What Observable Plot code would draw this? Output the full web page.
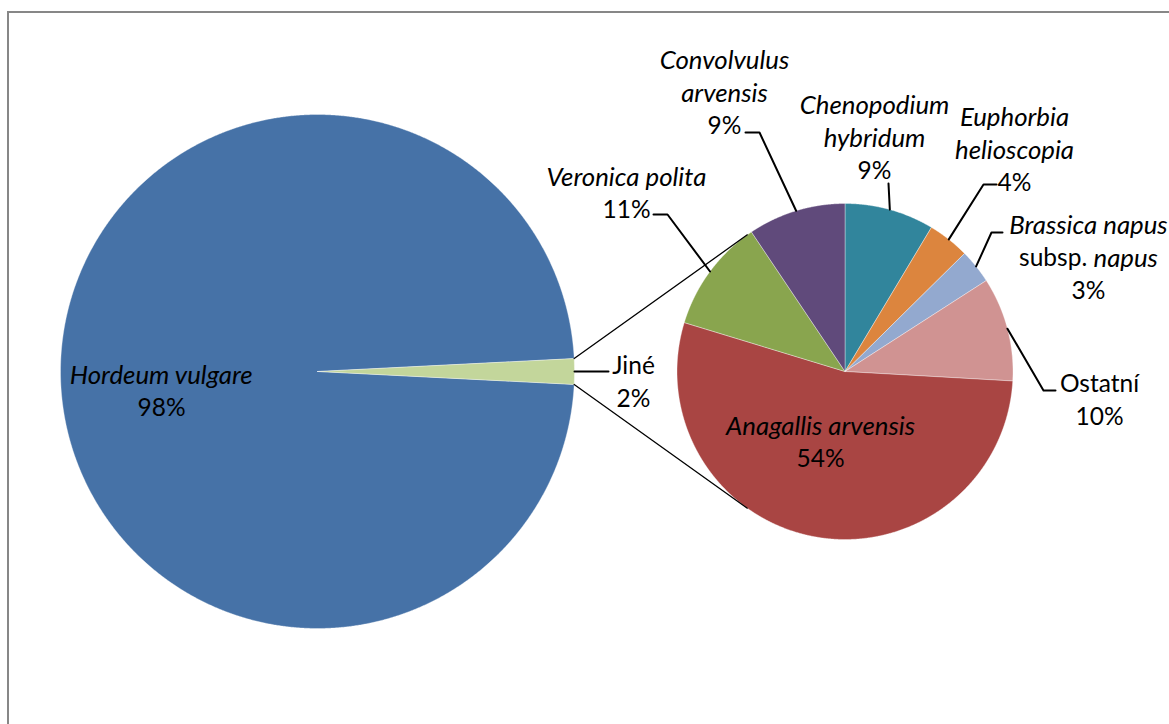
<!DOCTYPE html>
<html><head><meta charset="utf-8">
<script src="https://cdn.jsdelivr.net/npm/d3@7"></script>
<script src="https://cdn.jsdelivr.net/npm/@observablehq/plot@0.6"></script>
<style>
html,body{margin:0;padding:0;background:#fff;overflow:hidden}
#wrap{position:relative;width:1169px;height:724px;overflow:hidden}
#frame{position:absolute;left:7px;top:11px;width:1400px;height:1000px;border:2px solid #878787;box-sizing:border-box}
#chart{position:absolute;left:0;top:0}
</style></head><body>
<div id="wrap"><div id="frame"></div><div id="chart"></div></div>
<script>
// ---- data ----
const mainNames = ["Hordeum vulgare", "Jiné"];
const mainValues = [98.4, 1.6];
const mainColors = ["#4672A7", "#C3D69B"];
const mainLabels = ["*Hordeum vulgare*", "Jiné"];

const subNames = ["Chenopodium hybridum", "Euphorbia helioscopia", "Brassica napus subsp. napus", "Ostatní", "Anagallis arvensis", "Veronica polita", "Convolvulus arvensis"];
const subValues = [8.6, 4.0, 3.3, 10.0, 53.8, 10.9, 9.4];
const subColors = ["#31859C", "#DC853E", "#93A9CF", "#D09392", "#A94543", "#89A54E", "#604A7B"];
const subLabels = ["*Chenopodium*\n*hybridum*", "*Euphorbia*\n*helioscopia*", "*Brassica napus*\nsubsp. *napus*", "Ostatní", "*Anagallis arvensis*", "*Veronica polita*", "*Convolvulus*\n*arvensis*"];

// ---- layout ----
const W = 1169, H = 724;
const mainPie = {cx: 317, cy: 371, r: 257};
const subPie = {cx: 844.5, cy: 371, r: 168};
const FONT = "Lato", FS_N = 24.5, FS_I = 25.8, LH = 33;
// label block centre x, first-line centre y, leader start (and elbow)
const labelPos = {
  "Hordeum vulgare": {x: 161, y: 375},
  "Jiné": {x: 633, y: 366, leader: [[608, 371]]},
  "Chenopodium hybridum": {x: 874, y: 105, leader: [[888, 183]]},
  "Euphorbia helioscopia": {x: 1014, y: 117, leader: [[996, 184], [983, 184]]},
  "Brassica napus subsp. napus": {x: 1088, y: 225, leader: [[1002, 232], [991, 232]]},
  "Ostatní": {x: 1099, y: 384, leader: [[1055, 390], [1043, 390]]},
  "Anagallis arvensis": {x: 820, y: 426},
  "Veronica polita": {x: 626, y: 177, leader: [[653, 214], [667, 214]]},
  "Convolvulus arvensis": {x: 724, y: 60, leader: [[745, 132], [759, 132]]}
};

// ---- geometry ----
const TAU = 2 * Math.PI;
const mainTotal = d3.sum(mainValues);
const jIdx = 1;
const before = d3.sum(mainValues.slice(0, jIdx));
const mainStart = Math.PI / 2 - TAU * (before + mainValues[jIdx] / 2) / mainTotal;
const mainArcs = d3.pie().sort(null).startAngle(mainStart).endAngle(mainStart + TAU)(mainValues);
const subArcs = d3.pie().sort(null).startAngle(0).endAngle(TAU)(subValues);

const pt = (p, a, r = p.r) => ({x: p.cx + r * Math.sin(a), y: p.cy - r * Math.cos(a)});

function wedge(name, p, a0, a1) {
  const pts = [{name, x: p.cx, y: p.cy}];
  const n = Math.max(4, Math.ceil((a1 - a0) / (Math.PI / 720)));
  for (let i = 0; i <= n; i++) {
    const q = pt(p, a0 + (a1 - a0) * i / n);
    pts.push({name, ...q});
  }
  pts.push({name, x: p.cx, y: p.cy});
  return pts;
}

const wedges = [];
mainArcs.forEach((a, i) => wedges.push(...wedge(mainNames[i], mainPie, a.startAngle, a.endAngle)));
subArcs.forEach((a, i) => wedges.push(...wedge(subNames[i], subPie, a.startAngle, a.endAngle)));

// connector tangent lines from the "Jiné" slice edges to the secondary pie
function tangent(P, C, r, upper) {
  const dx = P.x - C.cx, dy = P.y - C.cy;
  const d = Math.hypot(dx, dy);
  const base = Math.atan2(dy, dx);
  const off = Math.acos(r / d);
  const ang = upper ? base + off : base - off;
  return {x: C.cx + r * Math.cos(ang), y: C.cy + r * Math.sin(ang)};
}
const jArc = mainArcs[jIdx];
const pTop = pt(mainPie, jArc.startAngle), pBot = pt(mainPie, jArc.endAngle);
const connectors = [
  {id: "t", ...pTop}, {id: "t", ...tangent(pTop, subPie, subPie.r, true)},
  {id: "b", ...pBot}, {id: "b", ...tangent(pBot, subPie, subPie.r, false)}
];

// leaders
const leaders = [];
function addLeader(name, p, arc) {
  const lp = labelPos[name];
  if (!lp.leader) return;
  const mid = (arc.startAngle + arc.endAngle) / 2;
  lp.leader.forEach(([x, y]) => leaders.push({id: name, x, y}));
  leaders.push({id: name, ...pt(p, mid)});
}
mainArcs.forEach((a, i) => addLeader(mainNames[i], mainPie, a));
subArcs.forEach((a, i) => addLeader(subNames[i], subPie, a));

// text rows
const ctx = document.createElement("canvas").getContext("2d");
function measure(t, it) { ctx.font = `${it ? "italic " : ""}${it ? FS_I : FS_N}px ${FONT}`; return ctx.measureText(t).width; }
const textRows = [];
function addLabel(name, label, value, total) {
  const lp = labelPos[name];
  const lines = label.split("\n").concat([Math.round(value / total * 100) + "%"]);
  lines.forEach((line, li) => {
    const segs = line.split("*").map((t, k) => ({t, it: k % 2 === 1})).filter(s => s.t.length);
    const w = d3.sum(segs, s => measure(s.t, s.it));
    let x = lp.x - w / 2;
    segs.forEach(s => { textRows.push({x, y: lp.y + li * LH, text: s.t, italic: s.it}); x += measure(s.t, s.it); });
  });
}
mainNames.forEach((n, i) => addLabel(n, mainLabels[i], mainValues[i], mainTotal));
const subTotal = d3.sum(subValues);
subNames.forEach((n, i) => addLabel(n, subLabels[i], subValues[i], subTotal));

const chart = Plot.plot({
  width: W, height: H, margin: 0,
  x: {domain: [0, W], range: [0, W], axis: null},
  y: {domain: [0, H], range: [0, H], axis: null},
  color: {domain: [...mainNames, ...subNames], range: [...mainColors, ...subColors]},
  style: {background: "transparent", fontFamily: FONT},
  marks: [
    Plot.line(wedges, {x: "x", y: "y", z: "name", fill: "name", stroke: "white", strokeWidth: 0.6, strokeOpacity: 0.6}),
    Plot.line(connectors, {x: "x", y: "y", z: "id", stroke: "black", strokeWidth: 1.3}),
    Plot.line(leaders, {x: "x", y: "y", z: "id", stroke: "black", strokeWidth: 2}),
    Plot.text(textRows.filter(d => d.italic), {x: "x", y: "y", text: "text", textAnchor: "start", fontStyle: "italic", fontSize: FS_I, fill: "black"}),
    Plot.text(textRows.filter(d => !d.italic), {x: "x", y: "y", text: "text", textAnchor: "start", fontSize: FS_N, fill: "black"})
  ]
});
document.getElementById("chart").appendChild(chart);
</script>
</body></html>
